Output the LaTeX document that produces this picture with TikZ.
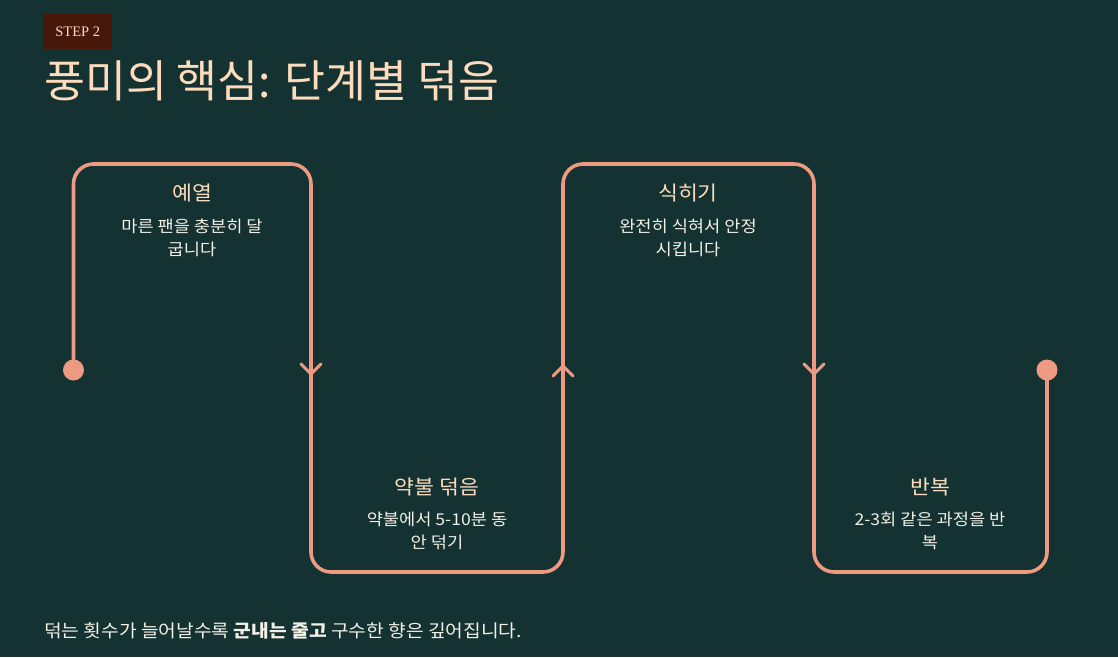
\documentclass[tikz,border=0pt]{standalone}
\usepackage{fontspec}
\setmainfont{Noto Sans CJK KR}
\newfontfamily\krw[FakeStretch=1.08]{Noto Sans CJK KR}
\newfontfamily\serifstep{Liberation Serif}
\definecolor{bgc}{HTML}{143232}
\definecolor{linec}{HTML}{EE9A82}
\definecolor{peach}{HTML}{FCDCBC}
\definecolor{subc}{HTML}{F3F0E6}
\definecolor{stepc}{HTML}{471709}
\tikzset{
  flow/.style={draw=linec, line width=3.6pt, rounded corners=20pt},
  chev/.style={draw=linec, line width=3pt, line cap=round, line join=round},
  dotc/.style={circle, fill=linec, inner sep=0pt, minimum size=21pt},
  head/.style={text=peach, font=\krw\fontsize{20}{24}\selectfont, inner sep=0pt, anchor=center},
  sub/.style={text=subc, font=\krw\fontsize{16.3}{22.5}\selectfont, inner sep=0pt, align=center, anchor=center},
}
\begin{document}
\begin{tikzpicture}[x=1pt,y=-1pt]
\fill[bgc] (0,0) rectangle (1118,657);
\useasboundingbox (0,0) rectangle (1118,657);
% step tag
\node[fill=stepc, minimum width=69pt, minimum height=35pt, inner sep=0pt, anchor=north west, text=peach, font=\serifstep\fontsize{14.5}{16}\selectfont] (tag) at (43,14) {STEP 2};
% title
\node[anchor=west, inner sep=0pt, text=peach, font=\fontsize{44.5}{52}\selectfont] (title) at (44,81) {풍미의 핵심: 단계별 덖음};
% dots
\node[dotc] (start) at (73.5,370) {};
\node[dotc] (end) at (1047,370) {};
% path
\draw[flow] (start.center) -- (73.5,164) -- (311,164) -- (311,572) -- (563,572) -- (563,164) -- (814,164) -- (814,572) -- (1047,572) -- (end.center);
% chevrons
\coordinate (a1) at (311,374);
\coordinate (a2) at (563,366);
\coordinate (a3) at (814,374);
\draw[chev] ([shift={(-10,-10)}]a1) -- (a1) -- ([shift={(10,-10)}]a1);
\draw[chev] ([shift={(-10,10)}]a2) -- (a2) -- ([shift={(10,10)}]a2);
\draw[chev] ([shift={(-10,-10)}]a3) -- (a3) -- ([shift={(10,-10)}]a3);
% labels
\node[head] (h1) at (192,193) {예열};
\node[sub] (s1) at (192,238) {마른 팬을 충분히 달\\굽니다};
\node[head] (h2) at (437,487) {약불 덖음};
\node[sub] (s2) at (437,531) {약불에서 5-10분 동\\안 덖기};
\node[head] (h3) at (688,193) {식히기};
\node[sub] (s3) at (688,238) {완전히 식혀서 안정\\시킵니다};
\node[head] (h4) at (930,487) {반복};
\node[sub] (s4) at (930,531) {2-3회 같은 과정을 반\\복};
% footer
\node[anchor=west, inner sep=0pt, text=subc, font=\krw\fontsize{17.8}{21}\selectfont] (foot) at (44,631) {덖는 횟수가 늘어날수록 {\bfseries 군내는 줄고} 구수한 향은 깊어집니다.};
\end{tikzpicture}
\end{document}
